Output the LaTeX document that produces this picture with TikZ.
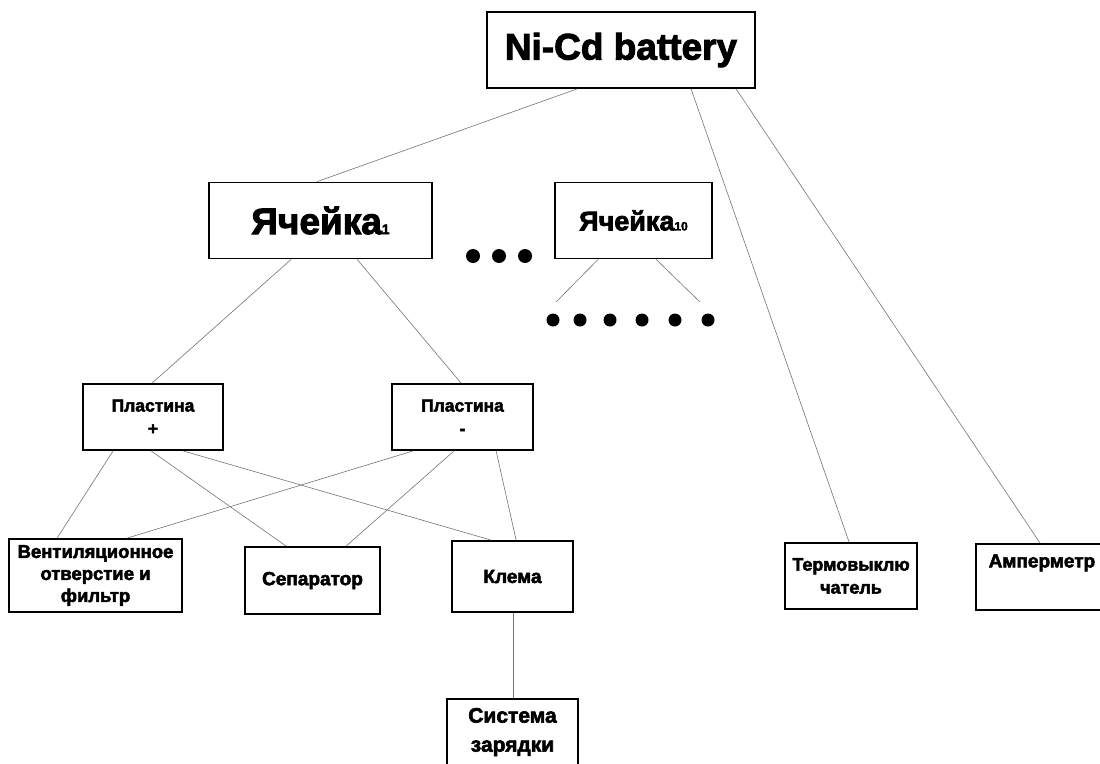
\documentclass[tikz,border=0pt]{standalone}
\usepackage{fontspec}
\setmainfont{Liberation Sans}[BoldFeatures={FakeBold=2.6}]
\usetikzlibrary{calc}

\newcommand{\fs}[1]{\fontsize{#1}{#1}\selectfont}

\tikzset{
  box/.style={draw=black, line width=1.8pt, fill=white, inner sep=0pt,
    align=center, font=\bfseries},
  link/.style={draw=black!55, line width=0.6pt},
  dot/.style={fill=black}
}

\begin{document}
\begin{tikzpicture}[x=1pt, y=-1pt]
\useasboundingbox (0,0) rectangle (1100,763);

% top level
\node[box, minimum width=268pt, minimum height=76pt, font=\bfseries\fs{37}]
  (bat) at (621,50) {\raisebox{-2pt}{Ni-Cd battery}};

% cells
\node[box, minimum width=223pt, minimum height=76pt, font=\bfseries\fs{37}]
  (c1) at (320.5,220.5) {Ячейка{\fs{14}1}};
\node[box, minimum width=157pt, minimum height=76pt, font=\bfseries\fs{27}]
  (c10) at (633.5,220.5) {Ячейка{\fs{12}10}};

% plates
\node[box, minimum width=140pt, minimum height=66pt,
  font=\bfseries\fontsize{17.5}{23}\selectfont]
  (pp) at (153,417) {Пластина\\+};
\node[box, minimum width=141pt, minimum height=66pt,
  font=\bfseries\fontsize{17.5}{23}\selectfont]
  (pm) at (462.5,417) {Пластина\\-};

% parts of a plate
\node[box, minimum width=173pt, minimum height=73pt,
  font=\bfseries\fontsize{18.5}{22}\selectfont]
  (vent) at (95.5,575.5) {Вентиляционное\\отверстие и\\фильтр};
\node[box, minimum width=135pt, minimum height=67pt, font=\bfseries\fs{19}]
  (sep) at (312.5,580.5) {Сепаратор};
\node[box, minimum width=121pt, minimum height=71pt, font=\bfseries\fs{19}]
  (klema) at (512.5,576.5) {Клема};

% charging system
\node[box, minimum width=131pt, minimum height=66pt,
  font=\bfseries\fontsize{21}{29}\selectfont]
  (sys) at (512.5,732) {Система\\зарядки};

% battery-level devices
\node[box, minimum width=132pt, minimum height=66pt,
  font=\bfseries\fontsize{18}{23}\selectfont]
  (term) at (851,576) {Термовыклю\\чатель};
\node[box, anchor=north west, minimum width=132pt,
  text height=23.5pt, text depth=42.5pt, font=\bfseries\fs{19}]
  (amp) at (975,543) {Амперметр};

% ellipsis dots
\foreach \x in {473,499,525} \fill[dot] (\x,256) circle (7pt);
\foreach \x in {553,580,610,642,675,708} \fill[dot] (\x,320) circle (6.5pt);
\coordinate (dl) at (556,302);
\coordinate (dr) at (700,302);

% connectors
\draw[link] ($(bat.south west)+(91,0)$) -- ($(c1.north west)+(109,0)$);
\draw[link] ($(bat.south west)+(205,0)$) -- ($(term.north west)+(65,0)$);
\draw[link] ($(bat.south west)+(250,0)$) -- ($(amp.north west)+(65,0)$);

\draw[link] ($(c1.south west)+(83,0)$) -- ($(pp.north west)+(70,0)$);
\draw[link] ($(c1.south west)+(149,0)$) -- ($(pm.north west)+(70,0)$);

\draw[link] ($(c10.south west)+(44,0)$) -- (dl);
\draw[link] ($(c10.south west)+(102,0)$) -- (dr);

\draw[link] ($(pp.south west)+(31,0)$) -- ($(vent.north west)+(49,0)$);
\draw[link] ($(pp.south west)+(69,0)$) -- ($(sep.north west)+(42,0)$);
\draw[link] ($(pp.south west)+(101,0)$) -- ($(klema.north west)+(40,0)$);

\draw[link] ($(pm.south west)+(22,0)$) -- ($(vent.north west)+(119,0)$);
\draw[link] ($(pm.south west)+(63,0)$) -- ($(sep.north west)+(102,0)$);
\draw[link] ($(pm.south west)+(105,0)$) -- ($(klema.north west)+(65,0)$);

\draw[link] ($(klema.south west)+(62,0)$) -- ($(sys.north west)+(67,0)$);
\end{tikzpicture}
\end{document}
